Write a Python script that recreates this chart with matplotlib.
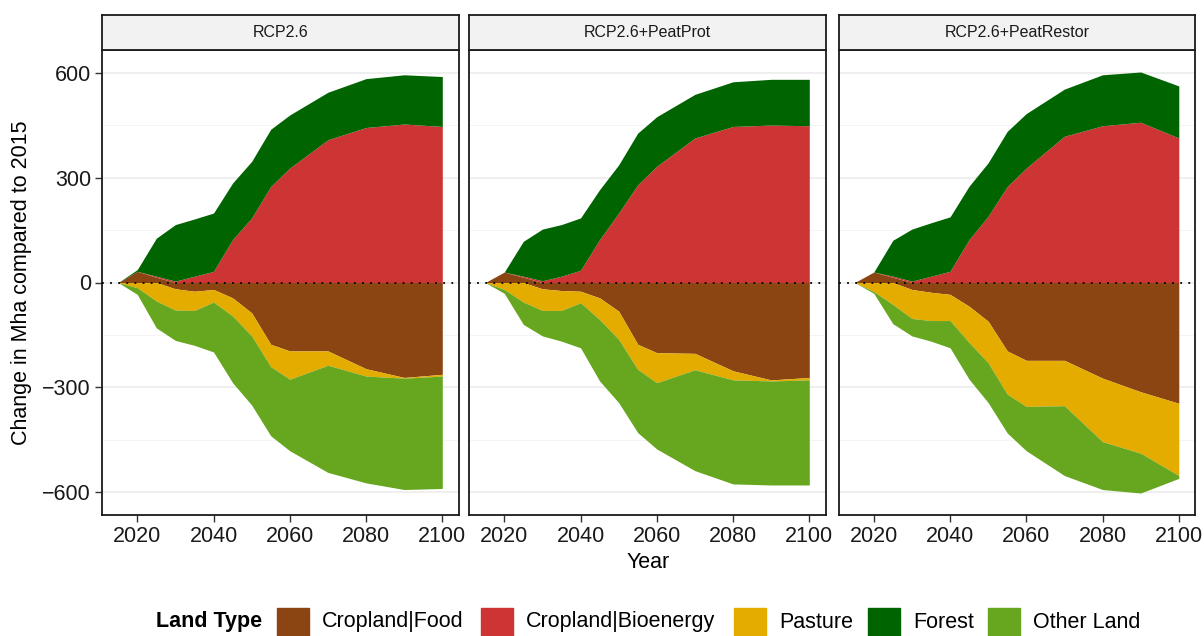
import matplotlib.pyplot as plt
from matplotlib.patches import Rectangle
import numpy as np

plt.rcParams['font.family'] = ['Liberation Sans', 'DejaVu Sans']

# Years on the x axis
years = [2015, 2020, 2025, 2030, 2035, 2040, 2045, 2050, 2055, 2060, 2070, 2080, 2090, 2100]

scenarios = ['RCP2.6', 'RCP2.6+PeatProt', 'RCP2.6+PeatRestor']
land_types = ['Cropland|Food', 'Cropland|Bioenergy', 'Pasture', 'Forest', 'Other Land']
colors = ['#8B4513', '#CD3434', '#E5AC00', '#006400', '#67A61F']

# Change in Mha compared to 2015
# RCP2.6
food_1 = [0, 32, 15, -18, -25, -20, -44, -87, -177, -196, -196, -247, -272, -263]
bio_1 = [0, 0, 3, 4, 18, 32, 123, 185, 275, 328, 409, 444, 454, 447]
pasture_1 = [0, -15, -53, -61, -55, -36, -52, -66, -64, -81, -41, -21, -2, -5]
forest_1 = [0, 5, 109, 162, 164, 167, 162, 162, 164, 152, 136, 140, 141, 143]
other_1 = [0, -19, -77, -87, -100, -143, -191, -198, -198, -205, -307, -306, -319, -322]

# RCP2.6+PeatProt
food_2 = [0, 30, 15, -18, -23, -25, -44, -82, -177, -201, -203, -253, -279, -272]
bio_2 = [0, 0, 3, 5, 18, 35, 123, 199, 280, 333, 414, 447, 451, 449]
pasture_2 = [0, -20, -56, -62, -57, -33, -62, -81, -72, -86, -47, -26, -3, -7]
forest_2 = [0, 0, 100, 148, 148, 150, 143, 138, 148, 142, 125, 128, 131, 133]
other_2 = [0, -11, -64, -73, -88, -129, -176, -181, -181, -190, -289, -298, -298, -301]

# RCP2.6+PeatRestor
food_3 = [0, 30, 15, -20, -28, -34, -68, -111, -196, -223, -223, -274, -313, -346]
bio_3 = [0, 0, 3, 4, 18, 32, 123, 190, 275, 328, 419, 449, 459, 414]
pasture_3 = [0, -26, -63, -83, -81, -75, -104, -119, -124, -132, -130, -182, -176, -207]
forest_3 = [0, 0, 103, 149, 153, 156, 153, 153, 158, 156, 135, 146, 144, 149]
other_3 = [0, -5, -55, -50, -59, -78, -105, -114, -111, -127, -200, -137, -114, -8]

data = [
    [food_1, bio_1, pasture_1, forest_1, other_1],
    [food_2, bio_2, pasture_2, forest_2, other_2],
    [food_3, bio_3, pasture_3, forest_3, other_3],
]

W, H = 1204, 636
fig = plt.figure(figsize=(W / 100, H / 100), dpi=100)

panel_left = [102, 469, 838.5]
panel_w = 356.5
panel_top, panel_bot = 50, 515
strip_top = 15

x = np.array(years)
for i, scen in enumerate(scenarios):
    l = panel_left[i]
    ax = fig.add_axes([l / W, 1 - panel_bot / H, panel_w / W, (panel_bot - panel_top) / H])

    # stack positives and negatives separately, like ggplot does
    pos_base = np.zeros(len(years))
    neg_base = np.zeros(len(years))
    for vals, c in zip(data[i], colors):
        v = np.array(vals, dtype=float)
        p = np.clip(v, 0, None)
        n = np.clip(v, None, 0)
        if p.any():
            ax.fill_between(x, pos_base, pos_base + p, color=c, lw=0, zorder=2)
        if n.any():
            ax.fill_between(x, neg_base, neg_base + n, color=c, lw=0, zorder=2)
        pos_base = pos_base + p
        neg_base = neg_base + n

    ax.axhline(0, color='black', ls=(0, (1, 3.5)), lw=1.3, zorder=4)

    ax.set_xlim(2010.75, 2104.25)
    ax.set_ylim(-666, 666)
    ax.set_xticks([2020, 2040, 2060, 2080, 2100])
    ax.set_yticks([-600, -300, 0, 300, 600])
    ax.set_yticks([-450, -150, 150, 450], minor=True)
    ax.grid(axis='y', which='major', color='#EBEBEB', lw=1.1, zorder=0)
    ax.grid(axis='y', which='minor', color='#F2F2F2', lw=0.6, zorder=0)
    ax.set_axisbelow(True)
    ax.tick_params(axis='both', which='major', labelsize=15.5, length=5, width=1,
                   color='#333333', labelcolor='#1a1a1a', pad=3)
    ax.tick_params(axis='y', which='minor', length=0)
    if i > 0:
        ax.tick_params(axis='y', which='major', length=0, labelleft=False)
    for s in ax.spines.values():
        s.set_color('#1a1a1a')
        s.set_linewidth(1.3)

    # facet strip
    sax = fig.add_axes([l / W, 1 - panel_top / H, panel_w / W, (panel_top - strip_top) / H])
    sax.set_facecolor('#F2F2F2')
    sax.set_xticks([])
    sax.set_yticks([])
    for s in sax.spines.values():
        s.set_color('#1a1a1a')
        s.set_linewidth(1.3)
    sax.text(0.5, 0.5, scen, ha='center', va='center', fontsize=11.5, color='#1a1a1a',
             transform=sax.transAxes)

fig.text(22 / W, 1 - 283 / H, 'Change in Mha compared to 2015', rotation=90,
         ha='center', va='center', fontsize=15.5)
fig.text(648 / W, 1 - 562 / H, 'Year', ha='center', va='center', fontsize=15.5)

# legend along the bottom
fig.text(156 / W, 1 - 622 / H, 'Land Type', ha='left', va='center', fontsize=15.5,
         fontweight='bold')
text_left = [322, 526, 779, 913, 1033]
for lab, c, tx in zip(land_types, colors, text_left):
    kx = tx - 45
    fig.add_artist(Rectangle((kx / W, 1 - 636 / H), 32 / W, 28 / H, color=c,
                             transform=fig.transFigure))
    fig.text(tx / W, 1 - 622 / H, lab, ha='left', va='center', fontsize=15.5)

fig.savefig('out.png', dpi=100)
